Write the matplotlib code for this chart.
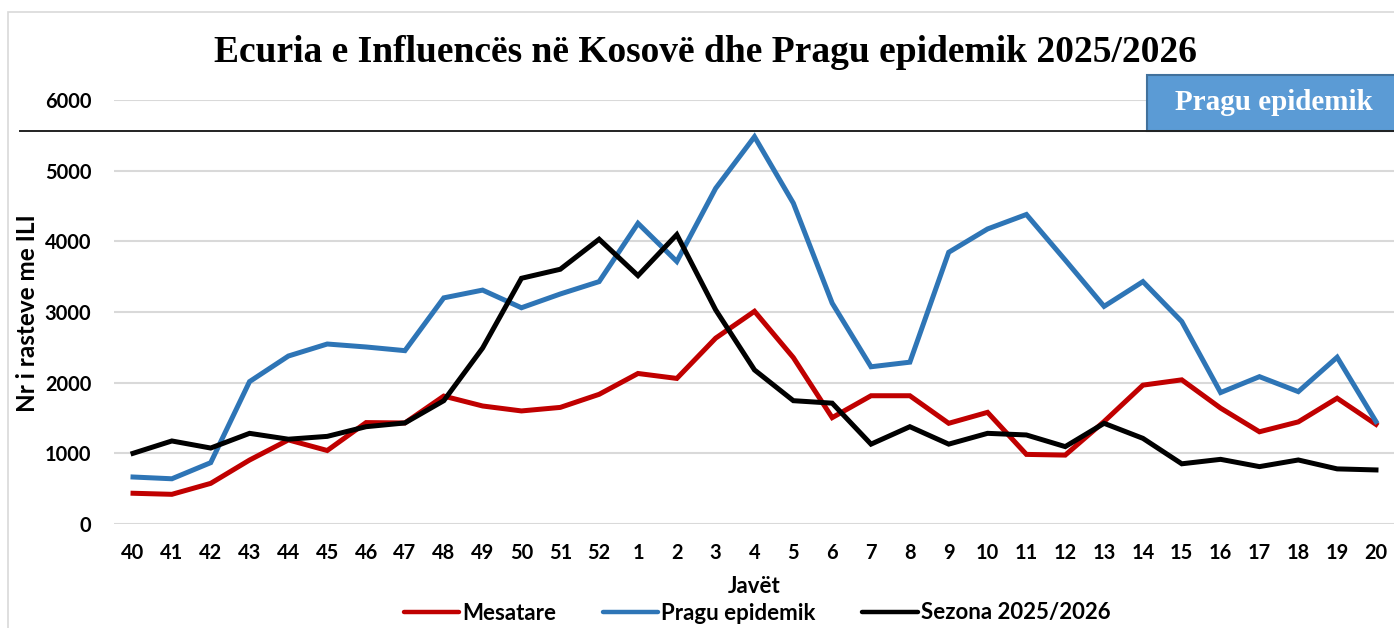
import matplotlib
matplotlib.use('Agg')
import matplotlib.pyplot as plt
from matplotlib.lines import Line2D
from matplotlib.patches import Rectangle

# data
weeks = ['40', '41', '42', '43', '44', '45', '46', '47', '48', '49', '50', '51', '52',
         '1', '2', '3', '4', '5', '6', '7', '8', '9', '10', '11', '12', '13', '14',
         '15', '16', '17', '18', '19', '20']

mesatare = [435, 420, 575, 905, 1190, 1040, 1435, 1430, 1810, 1670, 1600, 1650, 1835,
            2130, 2060, 2630, 3010, 2355, 1505, 1815, 1815, 1425, 1580, 985, 975,
            1450, 1965, 2040, 1640, 1305, 1445, 1780, 1410]

pragu = [665, 640, 868, 2015, 2377, 2547, 2505, 2453, 3200, 3310, 3060, 3255, 3430,
         4255, 3715, 4750, 5480, 4540, 3125, 2225, 2290, 3845, 4175, 4380, 3735,
         3080, 3430, 2865, 1860, 2085, 1873, 2360, 1450]

sezona = [1000, 1175, 1075, 1283, 1200, 1240, 1377, 1430, 1745, 2490, 3477, 3605, 4030,
          3515, 4095, 3030, 2180, 1745, 1710, 1130, 1377, 1130, 1283, 1260, 1095,
          1425, 1212, 852, 915, 812, 906, 780, 765]

W, H = 1394, 628
fig = plt.figure(figsize=(W / 100, H / 100), dpi=100)
sans = ['Lato', 'DejaVu Sans']
serif = ['Liberation Serif', 'DejaVu Serif']

ax = fig.add_axes([113.6 / W, (H - 524) / H, 1281.8 / W, 424 / H])

x = list(range(len(weeks)))
ax.plot(x, mesatare, color='#C00000', lw=3.6, label='Mesatare', solid_joinstyle='miter')
ax.plot(x, pragu, color='#2E75B6', lw=3.6, label='Pragu epidemik', solid_joinstyle='miter')
ax.plot(x, sezona, color='#000000', lw=3.6, label='Sezona 2025/2026', solid_joinstyle='miter')

ax.set_xlim(-0.5, len(weeks) - 0.5)
ax.set_ylim(0, 6000)
ax.set_yticks(range(0, 6001, 1000))
ax.set_xticks(x)
ax.set_xticklabels(weeks)
ax.grid(axis='y', color='#D9D9D9', lw=1.5)
ax.set_axisbelow(True)
for s in ax.spines.values():
    s.set_visible(False)
ax.tick_params(axis='both', length=0, labelsize=14.4)
ax.tick_params(axis='y', pad=16)
ax.tick_params(axis='x', pad=14)
for lab in ax.get_xticklabels() + ax.get_yticklabels():
    lab.set_fontfamily(sans)
    lab.set_fontweight('bold')

ax.set_xlabel('Javët', fontsize=16, fontweight='bold', family=sans, labelpad=9)
fig.text(28 / W, 1 - 313 / H, 'Nr i rasteve me ILI', rotation=90, ha='center', va='center',
         fontsize=17.5, fontweight='bold', family=sans)

fig.text(705 / W, 1 - 52 / H, 'Ecuria e Influencës në Kosovë dhe Pragu epidemik 2025/2026',
         ha='center', va='center', fontsize=27, fontweight='bold', family=serif)

# outer frame of the chart
fig.add_artist(Rectangle((8 / W, -0.1), 1.2, 1 - 12 / H + 0.1, transform=fig.transFigure,
                         fill=False, edgecolor='#D9D9D9', lw=1.2))

# decorative threshold bar and box
fig.add_artist(Line2D([20 / W, 1], [1 - 131 / H, 1 - 131 / H], transform=fig.transFigure,
                      color='#222222', lw=1.4))
fig.add_artist(Rectangle((1147 / W, 1 - 131 / H), (W - 1147 + 10) / W, 56 / H,
                         transform=fig.transFigure, facecolor='#5B9BD5',
                         edgecolor='#41719C', lw=1.5))
fig.text(1274 / W, 1 - 103 / H, 'Pragu epidemik', ha='center', va='center', color='white',
         fontsize=21, fontweight='bold', family=serif)

leg = fig.legend(loc='center', bbox_to_anchor=(757 / W, 1 - 613 / H), ncol=3, frameon=False,
                 prop={'family': sans, 'weight': 'bold', 'size': 16}, handlelength=2.5,
                 handletextpad=0.13, columnspacing=2.1)
for h in leg.legend_handles:
    h.set_linewidth(3.2)
    h.set_solid_capstyle('round')

fig.savefig('out.png', dpi=100)
